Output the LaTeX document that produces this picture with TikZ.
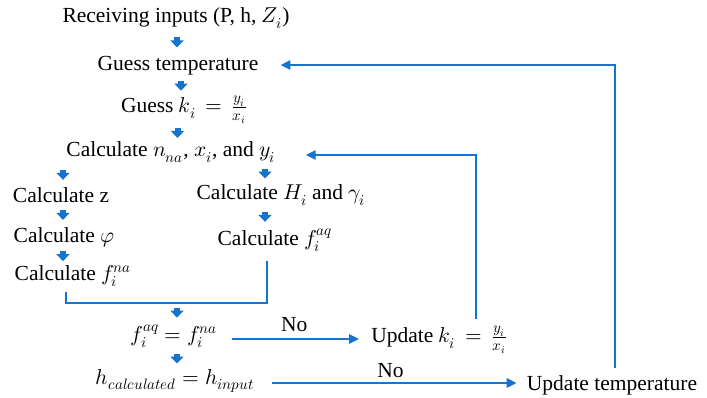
\documentclass[tikz,border=0pt]{standalone}
\usepackage{fontspec}
\usepackage{unicode-math}
\setmainfont{Liberation Serif}
\setmathfont{Latin Modern Math}
\usetikzlibrary{arrows.meta,calc}
\definecolor{flowblue}{RGB}{22,116,206}
\tikzset{
  txt/.style={inner sep=2pt, font=\fontsize{21.5}{25}\selectfont},
  blk/.style={draw=flowblue, line width=6pt, -{Triangle[width=13pt,length=7pt]},
    to path={($(\tikztostart)!0.5!(\tikztotarget)+(0,5pt)$) -- ++(0,-10pt)}},
  conn/.style={draw=flowblue, line width=2.8pt},
  connarr/.style={conn, -{Triangle[width=9pt,length=10pt]}},
  lbl/.style={inner sep=0pt, font=\fontsize{21.5}{25}\selectfont}
}
\begin{document}
\begin{tikzpicture}[x=1pt,y=-1pt]
\useasboundingbox (0,0) rectangle (707,397);
\node[txt] (recv) at (176,18) {Receiving inputs (P, h, $Z_i$)};
\node[txt] (gtemp) at (178,66) {Guess temperature};
\node[txt] (gk) at (184,110) {Guess $k_i\,=\,\frac{y_i}{x_i}$};
\node[txt] (calcn) at (171,152) {Calculate $n_{na}$, $x_i$, and $y_i$};
\node[txt] (calcz) at (61,195) {Calculate z};
\node[txt] (calcH) at (281,195) {Calculate $H_i$ and $\gamma_i$};
\node[txt] (calcphi) at (64,237) {Calculate $\varphi$};
\node[txt] (calcfaq) at (275,240) {Calculate $f_i^{aq}$};
\node[txt] (calcfna) at (73,276) {Calculate $f_i^{na}$};
\node[txt] (feq) at (174,336) {$f_i^{aq}=f_i^{na}$};
\node[txt] (heq) at (175,381) {$h_{calculated}=h_{input}$};
\node[txt] (updk) at (439,340) {Update $k_i\,=\,\frac{y_i}{x_i}$};
\node[txt] (updt) at (612,385) {Update temperature};

\coordinate (bl) at (66,303);
\coordinate (br) at (267,303);
\coordinate (ak) at (476,155);
\coordinate (at) at (615,65);
\coordinate (r1) at (0,339);
\coordinate (r2) at (0,383);

\draw[blk] (recv.south) to (gtemp.north);
\draw[blk] (gtemp.south) to (gk.north);
\draw[blk] (gk.south) to (calcn.north);
\draw[blk] ([xshift=2pt]calcz.north |- calcn.south) to ([xshift=2pt]calcz.north);
\draw[blk] ([xshift=-16pt]calcH.north |- calcn.south) to ([xshift=-16pt]calcH.north);
\draw[blk] ([xshift=2pt]calcz.south) to ([xshift=2pt]calcz.south |- calcphi.north);
\draw[blk] ([xshift=-16pt]calcH.south) to ([xshift=-16pt]calcH.south |- calcfaq.north);
\draw[blk] ([xshift=-1pt]calcphi.south) to ([xshift=-1pt]calcphi.south |- calcfna.north);
\draw[blk] ([xshift=3pt]feq.north |- br) to ([xshift=3pt]feq.north);
\draw[blk] ([xshift=3pt]feq.south) to ([xshift=3pt]feq.south |- heq.north);

\draw[conn, shorten <=3pt, shorten >=7pt] (calcfna.south -| bl) -- (bl) -- (br) -- (calcfaq.south -| br);
\draw[connarr, shorten <=12pt, shorten >=10pt] (feq.east |- r1) -- node[lbl, above=6pt, pos=0.5] (no1) {No} (updk.west |- r1);
\draw[connarr, shorten <=16pt, shorten >=8pt] (heq.east |- r2) -- node[lbl, above=4pt, pos=0.5] (no2) {No} (updt.west |- r2);
\draw[connarr, shorten <=5pt] (updk.north -| ak) -- (ak) -- ([xshift=28pt]calcn.east |- ak);
\draw[connarr, shorten <=5pt] (updt.north -| at) -- (at) -- ([xshift=20pt]gtemp.east |- at);
\end{tikzpicture}
\end{document}
